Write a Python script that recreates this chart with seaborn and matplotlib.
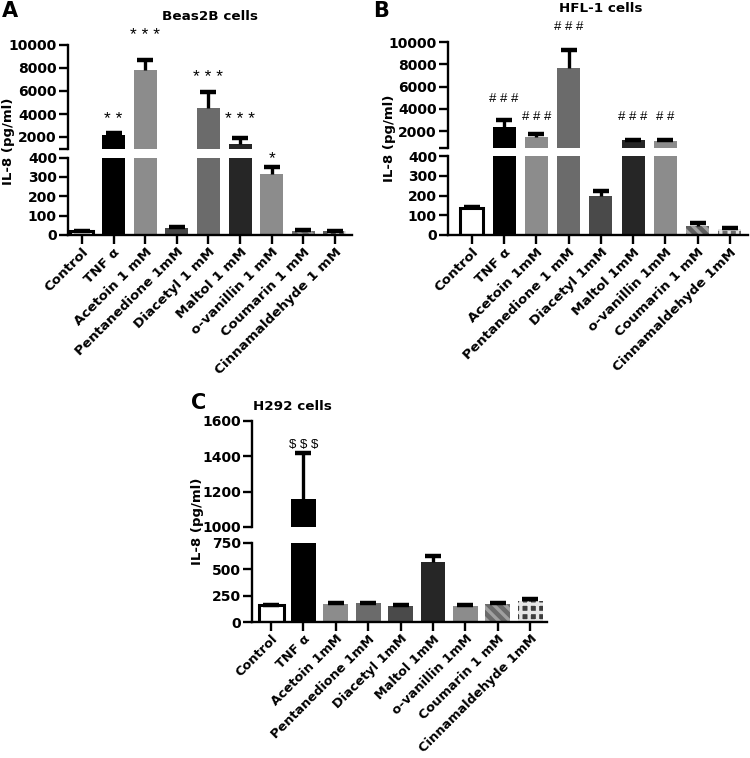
import matplotlib
matplotlib.use("Agg")
import matplotlib.pyplot as plt
import seaborn as sns
import numpy as np

# ---------------- data ----------------
cats_A = ['Control', 'TNF α', 'Acetoin 1 mM', 'Pentanedione 1mM', 'Diacetyl 1 mM',
          'Maltol 1 mM', 'o-vanillin 1 mM', 'Coumarin 1 mM', 'Cinnamaldehyde 1 mM']
vals_A = [20, 2150, 7800, 35, 4550, 1350, 315, 22, 20]
err_A = [3, 200, 900, 6, 1350, 600, 35, 4, 3]
sig_A = ['', '* *', '* * *', '', '* * *', '* * *', '*', '', '']
sig_y_A = [0, 3500, 10800, 0, 7200, 3500, 395, 0, 0]

cats_B = ['Control', 'TNF α', 'Acetoin 1mM', 'Pentanedione 1 mM', 'Diacetyl 1mM',
          'Maltol 1mM', 'o-vanillin 1mM', 'Coumarin 1 mM', 'Cinnamaldehyde 1mM']
vals_B = [135, 2400, 1450, 7700, 200, 1150, 1100, 48, 30]
err_B = [5, 550, 250, 1600, 25, 60, 80, 12, 5]
sig_B = ['', '# # #', '# # #', '# # #', '', '# # #', '# #', '', '']
sig_y_B = [0, 4900, 3250, 11350, 0, 3250, 3250, 0, 0]

cats_C = ['Control', 'TNF α', 'Acetoin 1mM', 'Pentanedione 1mM', 'Diacetyl 1mM',
          'Maltol 1mM', 'o-vanillin 1mM', 'Coumarin 1 mM', 'Cinnamaldehyde 1mM']
vals_C = [160, 1160, 175, 178, 155, 570, 152, 170, 195]
err_C = [6, 260, 6, 6, 6, 60, 6, 6, 22]
sig_C = ['', r'\$ \$ \$', '', '', '', '', '', '', '']
sig_y_C = [0, 1465, 0, 0, 0, 0, 0, 0, 0]

colors_A = ['#ffffff', '#000000', '#8c8c8c', '#474747', '#6b6b6b', '#262626', '#8c8c8c', '#707070', '#5a5a5a']
colors_B = ['#ffffff', '#000000', '#8c8c8c', '#6b6b6b', '#4a4a4a', '#262626', '#8c8c8c', '#5e5e5e', '#6b6b6b']
colors_C = ['#ffffff', '#000000', '#8c8c8c', '#6b6b6b', '#4a4a4a', '#262626', '#8c8c8c', '#6b6b6b', '#3d3d3d']

# ---------------- style ----------------
sns.set_style("ticks")
plt.rcParams['font.family'] = ['DejaVu Sans']
plt.rcParams['hatch.linewidth'] = 2.4
for k in ('text.color', 'axes.labelcolor', 'xtick.color', 'ytick.color', 'axes.edgecolor'):
    plt.rcParams[k] = 'black'
LW = 1.7

fig = plt.figure(figsize=(7.5, 7.58), dpi=100)
W, H = 750, 758


def px_axes(left, right, top, bottom):
    return fig.add_axes([left / W, 1 - bottom / H, (right - left) / W, (bottom - top) / H])


def draw_panel(cats, vals, errs, colors, sig, sig_y, lower_box, upper_box,
               lower_lim, upper_lim, lower_ticks, upper_ticks, upper_labels,
               xlim, width, xfs):
    axL = px_axes(*lower_box)
    axU = px_axes(*upper_box)
    x = np.arange(len(cats))
    v = np.array(vals, dtype=float)
    e = np.array(errs, dtype=float)
    for ax, lim in ((axL, lower_lim), (axU, upper_lim)):
        sns.barplot(x=cats, y=vals, hue=cats, palette=colors, saturation=1,
                    legend=False, errorbar=None, width=width, ax=ax, zorder=2)
        for i, p in enumerate(ax.patches):
            if i == 0:
                p.set_edgecolor('black')
                p.set_linewidth(2.2)
            elif i == 7:
                p.set_hatch('\\\\\\')
                p.set_edgecolor('#a0a0a0')
                p.set_linewidth(0)
            elif i == 8:
                p.set_hatch('++')
                p.set_edgecolor('#e6e6e6')
                p.set_linewidth(0)
            else:
                p.set_linewidth(0)
            if ax is axU and vals[i] <= lim[0]:
                p.set_visible(False)
        show = (v + e > lim[0]) if ax is axU else np.ones(len(v), bool)
        ax.errorbar(x[show], v[show], yerr=[np.zeros(show.sum()), e[show]], fmt='none',
                    ecolor='black', elinewidth=2.4, capsize=0, zorder=3)
        ax.plot(x[show], (v + e)[show], ls='none', marker='_',
                ms=11, mew=3.2, color='black', zorder=3)
        ax.set_ylim(*lim)
        ax.set_xlim(*xlim)
        ax.set_xlabel('')
        ax.set_ylabel('')
        for s in ('top', 'right'):
            ax.spines[s].set_visible(False)
        ax.spines['left'].set_linewidth(LW)
        ax.spines['bottom'].set_linewidth(LW)
        ax.tick_params(axis='both', width=LW, length=6.5, labelsize=10, pad=1.5)
        ax.patch.set_alpha(0)
    axU.spines['bottom'].set_visible(False)
    axU.tick_params(axis='x', bottom=False, labelbottom=False)
    axU.set_yticks(upper_ticks)
    axU.set_yticklabels(upper_labels)
    axL.set_yticks(lower_ticks)
    axL.set_yticklabels([str(t) for t in lower_ticks])
    axL.set_xticks(x)
    axL.set_xticklabels(cats, rotation=45, ha='right', rotation_mode='anchor', fontsize=xfs)
    axL.tick_params(axis='x', pad=1)
    for ax in (axL, axU):
        for lab in ax.get_yticklabels() + ax.get_xticklabels():
            lab.set_fontweight('bold')
    for i, (s, y) in enumerate(zip(sig, sig_y)):
        if not s:
            continue
        ax = axU if y > upper_lim[0] else axL
        fs = 12.5 if '*' in s else 9.5
        ax.text(i, y, s, ha='center', va='center', fontsize=fs, clip_on=False, zorder=5,
                family=['Liberation Sans', 'DejaVu Sans'])
    return axL, axU


# Panel A
draw_panel(cats_A, vals_A, err_A, colors_A, sig_A, sig_y_A,
           (68, 352, 157.5, 235), (68, 352, 45, 148.5),
           (0, 400), (1000, 10000), [0, 100, 200, 300, 400],
           [1000, 2000, 4000, 6000, 8000, 10000],
           ['', '2000', '4000', '6000', '8000', '10000'],
           (-0.44, 8.54), 0.73, 9.7)

# Panel B
draw_panel(cats_B, vals_B, err_B, colors_B, sig_B, sig_y_B,
           (448, 748, 156, 235), (448, 748, 42, 147.7),
           (0, 400), (500, 10000), [0, 100, 200, 300, 400],
           [500, 2000, 4000, 6000, 8000, 10000],
           ['', '2000', '4000', '6000', '8000', '10000'],
           (-0.74, 8.56), 0.71, 9.7)

# Panel C
draw_panel(cats_C, vals_C, err_C, colors_C, sig_C, sig_y_C,
           (252, 547, 543, 622), (252, 547, 421, 527),
           (0, 750), (1000, 1600), [0, 250, 500, 750],
           [1000, 1200, 1400, 1600],
           ['1000', '1200', '1400', '1600'],
           (-0.59, 8.52), 0.77, 9.3)

# titles, panel letters, y labels
fig.text(210 / W, 1 - 16 / H, 'Beas2B cells', ha='center', va='center', fontsize=9.7, fontweight='bold')
fig.text(601 / W, 1 - 9 / H, 'HFL-1 cells', ha='center', va='center', fontsize=9.7, fontweight='bold')
fig.text(253 / W, 1 - 407 / H, 'H292 cells', ha='left', va='center', fontsize=9.7, fontweight='bold')

fig.text(2 / W, 1 - 11 / H, 'A', ha='left', va='center', fontsize=15, fontweight='bold')
fig.text(373 / W, 1 - 11 / H, 'B', ha='left', va='center', fontsize=15, fontweight='bold')
fig.text(191 / W, 1 - 403 / H, 'C', ha='left', va='center', fontsize=15, fontweight='bold')

for xp, yp in ((9, 141), (389, 138), (198, 521)):
    fig.text(xp / W, 1 - yp / H, 'IL-8 (pg/ml)', rotation=90, ha='center', va='center',
             fontsize=9.5, fontweight='bold')

fig.savefig('out.png', dpi=100)
